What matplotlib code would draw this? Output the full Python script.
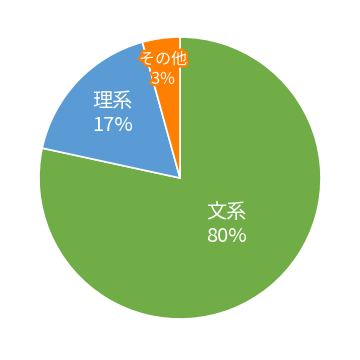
import matplotlib
matplotlib.use("Agg")
from matplotlib import pyplot as plt
import matplotlib.patheffects as pe

labels = ['文系', '理系', 'その他']
shares = [78.4, 17.3, 4.3]  # wedge sizes as drawn
pct_text = ['80%', '17%', '3%']  # percentages as printed on the chart
colors = ['#70AD47', '#5B9BD5', '#FF7F00']
# label anchor points in data units (pie radius = 1)
label_pos = [(0.33, -0.33), (-0.48, 0.46), (-0.12, 0.77)]
label_size = [14.5, 14.5, 11.5]

plt.rcParams['font.family'] = ['Noto Sans CJK JP', 'DejaVu Sans']

fig = plt.figure(figsize=(3.6, 3.6), dpi=100)
ax = fig.add_axes([39/360, 41/360, 282/360, 282/360])
ax.pie(shares, colors=colors, startangle=90, counterclock=False,
       wedgeprops={'edgecolor': 'white', 'linewidth': 1.2})
ax.set_xlim(-1, 1)
ax.set_ylim(-1, 1)
ax.set_aspect('equal')

for lab, pct, (x, y), fs, c in zip(labels, pct_text, label_pos, label_size, colors):
	t = ax.text(x, y, f'{lab}\n{pct}', ha='center', va='center', color='white',
				fontsize=fs, linespacing=1.2)
	if c == '#FF7F00':
		t.set_path_effects([pe.withStroke(linewidth=3.5, foreground=c)])

fig.savefig('out.png', dpi=100)
